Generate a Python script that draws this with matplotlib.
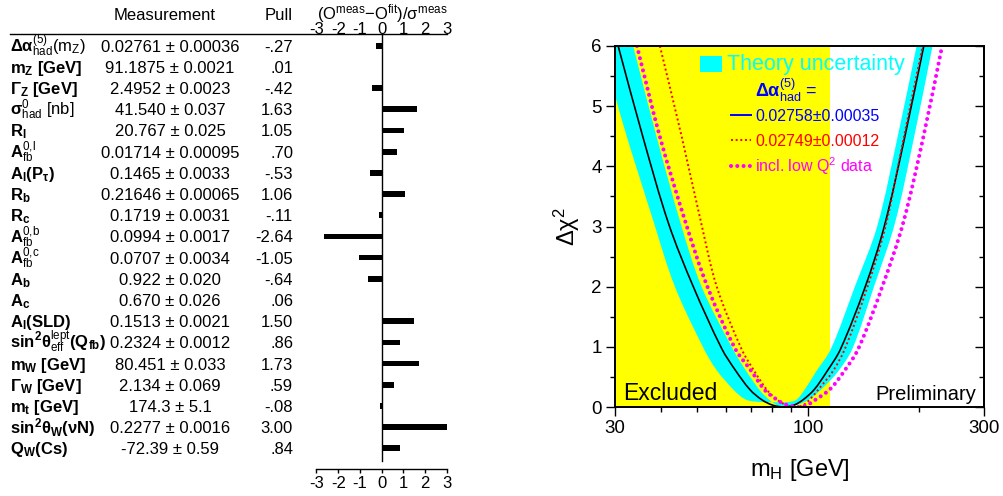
import numpy as np
import matplotlib
matplotlib.use("Agg")
import matplotlib.pyplot as plt
import matplotlib.transforms as mtransforms
from matplotlib.lines import Line2D
from matplotlib.patches import Rectangle, PathPatch
from matplotlib.path import Path
from matplotlib.ticker import FixedLocator, FixedFormatter, NullFormatter, MultipleLocator

plt.rcParams['font.family'] = ['Liberation Sans', 'DejaVu Sans']
plt.rcParams['mathtext.fontset'] = 'custom'
plt.rcParams['mathtext.rm'] = 'Liberation Sans'
plt.rcParams['mathtext.it'] = 'Liberation Sans:italic'
plt.rcParams['mathtext.bf'] = 'Liberation Sans:bold'
plt.rcParams['mathtext.sf'] = 'Liberation Sans'
plt.rcParams['mathtext.default'] = 'regular'
plt.rcParams['axes.unicode_minus'] = False

# ---------------------------------------------------------------- data
observables = [
    r'$\mathbf{\Delta\alpha}^{(5)}_{\rm had}\mathrm{(m_Z)}$',
    r'$\mathbf{m_Z\ [GeV]}$',
    r'$\mathbf{\Gamma_Z\ [GeV]}$',
    r'$\mathbf{\sigma}^{0}_{\rm had}\mathrm{\ [nb]}$',
    r'$\mathbf{R_l}$',
    r'$\mathbf{A}^{0,\!l}_{\rm fb}$',
    r'$\mathbf{A_l(P_\tau)}$',
    r'$\mathbf{R_b}$',
    r'$\mathbf{R_c}$',
    r'$\mathbf{A}^{0,\!b}_{\rm fb}$',
    r'$\mathbf{A}^{0,\!c}_{\rm fb}$',
    r'$\mathbf{A_b}$',
    r'$\mathbf{A_c}$',
    r'$\mathbf{A_l(SLD)}$',
    r'$\mathbf{sin^2\theta}^{\rm lept}_{\rm eff}\mathbf{(Q_{fb})}$',
    r'$\mathbf{m_W\ [GeV]}$',
    r'$\mathbf{\Gamma_W\ [GeV]}$',
    r'$\mathbf{m_t\ [GeV]}$',
    r'$\mathbf{sin^2\theta_W(\nu N)}$',
    r'$\mathbf{Q_W(Cs)}$',
]
measurements = [
    "0.02761 ± 0.00036", "91.1875 ± 0.0021", "2.4952 ± 0.0023",
    "41.540 ± 0.037", "20.767 ± 0.025", "0.01714 ± 0.00095",
    "0.1465 ± 0.0033", "0.21646 ± 0.00065", "0.1719 ± 0.0031",
    "0.0994 ± 0.0017", "0.0707 ± 0.0034", "0.922 ± 0.020",
    "0.670 ± 0.026", "0.1513 ± 0.0021", "0.2324 ± 0.0012",
    "80.451 ± 0.033", "2.134 ± 0.069", "174.3 ± 5.1",
    "0.2277 ± 0.0016", "-72.39 ± 0.59",
]
pulls = [-0.27, 0.01, -0.42, 1.63, 1.05, 0.70, -0.53, 1.06, -0.11, -2.64,
         -1.05, -0.64, 0.06, 1.50, 0.86, 1.73, 0.59, -0.08, 3.00, 0.84]
pull_ticks = [-3, -2, -1, 0, 1, 2, 3]

# delta chi^2 versus m_H
fit_mh = [30.6, 35.7, 41.9, 48.9, 58.4, 63.6, 69.6, 75.0, 80.3, 86.0,
          91.5, 97.0, 104.0, 112.0, 122.5, 143.0, 161.0, 183.0, 206.0]
fit_dchi2 = [6.0, 4.49, 3.05, 2.0, 0.97, 0.61, 0.29, 0.12, 0.03, 0.0,
             0.03, 0.12, 0.29, 0.57, 0.96, 2.0, 3.0, 4.49, 6.0]

band_hi_mh = [28.5, 30.0, 38.3, 43.6, 52.2, 56.6, 63.0, 67.5, 72.0, 80.0,
              88.0, 93.0, 98.0, 105.0, 115.5, 134.0, 154.0, 175.0, 197.0]
band_hi_dchi2 = [6.0, 5.18, 3.05, 2.0, 0.97, 0.61, 0.28, 0.13, 0.09, 0.08,
                 0.08, 0.12, 0.29, 0.58, 0.97, 2.0, 3.0, 4.49, 6.0]
band_lo_mh = [33.6, 38.9, 45.2, 51.5, 62.5, 68.0, 74.0, 78.5, 82.5, 87.5,
              93.0, 100.5, 109.0, 121.0, 132.0, 151.0, 172.0, 194.0, 217.6]
band_lo_dchi2 = [6.0, 4.49, 3.05, 2.0, 0.97, 0.6, 0.28, 0.12, 0.03, 0.0,
                 0.03, 0.12, 0.3, 0.6, 0.97, 2.0, 3.05, 4.49, 6.0]

alt_mh = [39.7, 45.5, 51.4, 56.6, 66.0, 71.5, 77.5, 82.5, 87.5, 93.0,
          97.0, 101.0, 107.0, 117.0, 126.0, 145.0, 163.0, 182.0, 204.6]
alt_dchi2 = [6.0, 4.49, 3.05, 2.0, 0.97, 0.6, 0.28, 0.12, 0.03, 0.0,
             0.03, 0.12, 0.3, 0.6, 0.97, 2.0, 3.05, 4.49, 6.0]

lowq2_mh = [34.4, 39.7, 46.7, 53.4, 63.5, 70.2, 76.4, 82.5, 86.3, 94.0,
            99.2, 104.8, 115.0, 125.5, 137.0, 159.0, 181.0, 205.5, 231.0]
lowq2_dchi2 = [6.0, 4.49, 3.05, 2.0, 0.97, 0.6, 0.28, 0.12, 0.05, 0.0,
               0.03, 0.12, 0.3, 0.6, 0.97, 2.0, 3.05, 4.49, 6.0]

excluded_limit = 114.4
mh_ticks = [30, 100, 300]
mh_minor = [40, 50, 60, 70, 80, 90, 200]

# ---------------------------------------------------------------- figure
W, H = 1004, 496
fig = plt.figure(figsize=(W / 100, H / 100), dpi=100)
# pixel coordinates measured from the top-left corner
pix = mtransforms.Affine2D().scale(1 / W, -1 / H).translate(0, 1) + fig.transFigure


def fx(px):
    return px / W


def fy(py):
    return 1 - py / H


def pull_text(p):
    s = f"{p:.2f}"
    return s.replace("0.", ".", 1) if s.lstrip("-").startswith("0.") else s


def smooth_curve(mh, dchi2, xscale=369.0, yscale=60.2):
    """Cubic Bezier path through the given points (chord-length Catmull-Rom,
    built in log(m_H) space so it stays smooth on the log axis)."""
    u = np.log10(np.asarray(mh, float)) * xscale
    v = np.asarray(dchi2, float) * yscale
    p = np.column_stack([u, v])
    n = len(p)
    t = np.concatenate([[0.0], np.cumsum(np.hypot(*np.diff(p, axis=0).T))])
    tang = np.zeros_like(p)
    for i in range(n):
        a, b = max(i - 1, 0), min(i + 1, n - 1)
        tang[i] = (p[b] - p[a]) / (t[b] - t[a])
    verts = [p[0]]
    codes = [Path.MOVETO]
    for i in range(n - 1):
        h = t[i + 1] - t[i]
        verts += [p[i] + tang[i] * h / 3, p[i + 1] - tang[i + 1] * h / 3, p[i + 1]]
        codes += [Path.CURVE4] * 3
    verts = np.array(verts)
    verts[:, 0] = 10 ** (verts[:, 0] / xscale)
    verts[:, 1] = verts[:, 1] / yscale
    return verts, codes


# ---------------------------------------------------------------- pull table
FS = 12
row_top, row_bottom = -0.54, 19.99
axb = fig.add_axes([fx(316.5), fy(469.3), fx(446.7) - fx(316.5), fy(34.3) - fy(469.3)])
axb.patch.set_visible(False)
rows = np.arange(len(pulls))
axb.barh(rows, pulls, height=0.27, color='black', zorder=2)
axb.plot([0, 0], [row_top, 19.6], color='black', lw=1.0, clip_on=False)
axb.set_xlim(-3, 3)
axb.set_ylim(row_bottom, row_top)
for s in ['top', 'left', 'right']:
    axb.spines[s].set_visible(False)
axb.spines['bottom'].set_linewidth(1.0)
axb.set_yticks([])
axb.set_xticks(pull_ticks)
axb.set_xticklabels([str(t) for t in pull_ticks])
axb.tick_params(axis='x', direction='out', length=3, width=1, pad=2, labelsize=FS)

# top scale of the pull column
top_trans = mtransforms.blended_transform_factory(axb.transData, pix)
for t in pull_ticks:
    fig.text(t, 34, str(t), transform=top_trans, ha='center', va='baseline', fontsize=FS)
fig.add_artist(Line2D([10, 447], [34.3, 34.3], transform=pix, color='black', lw=1.0))

# headers
fig.text(165, 20.5, "Measurement", transform=pix, ha='center', va='baseline', fontsize=FS)
fig.text(293, 20.5, "Pull", transform=pix, ha='right', va='baseline', fontsize=FS)
fig.text(382, 19.5, r"(O$^{meas}$$-$O$^{fit}$)/σ$^{meas}$", transform=pix,
         ha='center', va='baseline', fontsize=FS)

row_trans = mtransforms.offset_copy(
    mtransforms.blended_transform_factory(fig.transFigure, axb.transData),
    fig=fig, x=0, y=-6, units='dots')
for i, (name, meas, p) in enumerate(zip(observables, measurements, pulls)):
    fig.text(fx(10), i, name, transform=row_trans, ha='left', va='baseline', fontsize=FS)
    fig.text(fx(170), i, meas, transform=row_trans, ha='center', va='baseline', fontsize=FS)
    fig.text(fx(293), i, pull_text(p), transform=row_trans, ha='right', va='baseline', fontsize=FS)

# ---------------------------------------------------------------- blue band plot
ax = fig.add_axes([fx(615), fy(407), fx(984) - fx(615), fy(46) - fy(407)])
ax.set_xscale('log')
ax.set_xlim(30, 300)
ax.set_ylim(0, 6)

ax.axvspan(30, excluded_limit, color='#ffff00', lw=0, zorder=0)

# theory band: upper envelope left to right, then lower envelope back
hi_v, hi_c = smooth_curve(band_hi_mh, band_hi_dchi2)
lo_v, lo_c = smooth_curve(band_lo_mh[::-1], band_lo_dchi2[::-1])
lo_c = [Path.LINETO] + lo_c[1:]
band_path = Path(np.vstack([hi_v, lo_v, hi_v[:1]]), hi_c + lo_c + [Path.CLOSEPOLY])
ax.add_patch(PathPatch(band_path, facecolor='#00ffff', edgecolor='none', zorder=1))


def add_curve(mh, dchi2, **kw):
    v, c = smooth_curve(mh, dchi2)
    ax.add_patch(PathPatch(Path(v, c), facecolor='none', **kw))


add_curve(fit_mh, fit_dchi2, edgecolor='black', lw=1.2, zorder=3)
add_curve(alt_mh, alt_dchi2, edgecolor='#ff0000', lw=1.4, ls=(0, (1.0, 1.4)), zorder=3)
add_curve(lowq2_mh, lowq2_dchi2, edgecolor='#ff00ff', lw=2.9, ls=(0, (0.01, 1.55)),
          capstyle='round', zorder=4)

ax.xaxis.set_major_locator(FixedLocator(mh_ticks))
ax.xaxis.set_major_formatter(FixedFormatter([str(t) for t in mh_ticks]))
ax.xaxis.set_minor_locator(FixedLocator(mh_minor))
ax.xaxis.set_minor_formatter(NullFormatter())
ax.yaxis.set_major_locator(MultipleLocator(1))
ax.yaxis.set_minor_locator(MultipleLocator(0.5))
ax.tick_params(which='both', direction='out', width=1.0, labelsize=13.5, top=False, right=False)
ax.tick_params(which='major', length=6.5, pad=3)
ax.tick_params(which='minor', length=3.6)
for s in ax.spines.values():
    s.set_linewidth(1.4)
    s.set_zorder(5)

sec = ax.secondary_yaxis('right')
sec.yaxis.set_major_locator(MultipleLocator(1))
sec.yaxis.set_minor_locator(MultipleLocator(0.5))
sec.tick_params(which='both', direction='in', width=1.0, labelright=False)
sec.tick_params(which='major', length=6.5)
sec.tick_params(which='minor', length=3.6)
sec.spines['right'].set_linewidth(1.4)

ax.set_xlabel(r'm$_H$ [GeV]', fontsize=17, labelpad=14)
ax.set_ylabel(r'Δχ$^2$', fontsize=17, labelpad=7)

fig.text(623, 400, "Excluded", transform=pix, ha='left', va='baseline', fontsize=16.5)
fig.text(976, 400, "Preliminary", transform=pix, ha='right', va='baseline', fontsize=14.5)

# legend
fig.add_artist(Rectangle((700, 55.7), 22, 16.3, transform=pix, facecolor='#00ffff',
                         edgecolor='none'))
fig.text(727, 70, "Theory uncertainty", transform=pix, ha='left', va='baseline',
         fontsize=15.5, color='#00ffff')
fig.text(755, 97.5, r'$\mathbf{\Delta\alpha}^{(5)}_{\rm had}$ =', transform=pix, ha='left',
         va='baseline', fontsize=13, color='#0000ff')
legend_rows = [
    (115, "0.02758±0.00035", dict(color='#0000ff', lw=1.4, ls='-')),
    (140, "0.02749±0.00012", dict(color='#ff0000', lw=1.4, ls=(0, (1.0, 1.4)))),
    (166, r"incl. low Q$^2$ data", dict(color='#ff00ff', lw=2.9, ls=(0, (0.01, 1.55)),
                                         dash_capstyle='round')),
]
for y, txt, style in legend_rows:
    fig.add_artist(Line2D([731, 751], [y, y], transform=pix, **style))
    fig.text(755, y + 5.6, txt, transform=pix, ha='left', va='baseline', fontsize=11.5,
             color=style['color'])

fig.savefig("out.png", dpi=100)
